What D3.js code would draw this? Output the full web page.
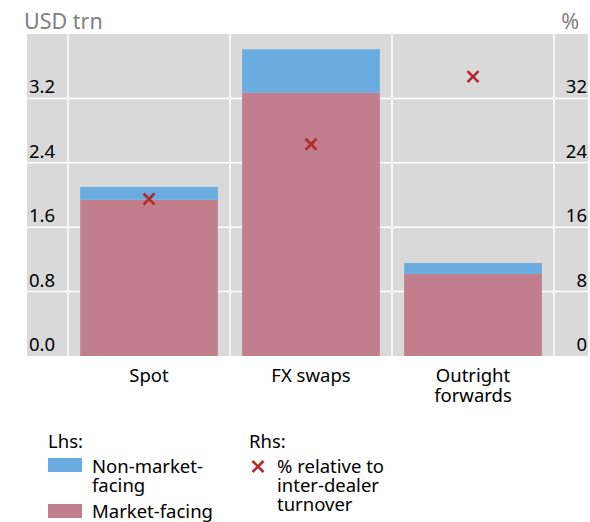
<!DOCTYPE html>
<html>
<head>
<meta charset="utf-8">
<script src="https://cdn.jsdelivr.net/npm/d3@7"></script>
<style>
  body { margin: 0; background: #fff; }
  svg { display: block; font-family: "Noto Sans", "Open Sans", sans-serif; }
</style>
</head>
<body>
<svg id="chart" width="590" height="522"></svg>
<script>
// data
var categories = ["Spot", "FX swaps", "Outright forwards"];
var categoryLines = [["Spot"], ["FX swaps"], ["Outright", "forwards"]];
var marketFacing = [1.94, 3.27, 1.02];
var nonMarketFacing = [0.16, 0.54, 0.135];
var pctInterDealer = [19.5, 26.3, 34.7];
var lhsTicks = [0, 0.8, 1.6, 2.4, 3.2];
var rhsTicks = [0, 8, 16, 24, 32];

var svg = d3.select("#chart");

// plot box (note: "top" is taken by window.top, so prefixed names)
var plotL = 27, plotR = 588, plotT = 34, plotB = 356;

var y = d3.scaleLinear().domain([0, 4]).range([plotB, plotT]);
var y2 = d3.scaleLinear().domain([0, 40]).range([plotB, plotT]);
var x = d3.scaleBand().domain(categories).range([68, 554]);
var barW = x.bandwidth() * 0.85;

svg.append("rect")
    .attr("x", plotL).attr("y", plotT)
    .attr("width", plotR - plotL).attr("height", plotB - plotT)
    .attr("fill", "#d9d9d9");

// horizontal grid
svg.selectAll(".hgrid")
    .data(lhsTicks.filter(function(d) { return d > 0; }))
    .enter().append("line")
    .attr("x1", plotL).attr("x2", plotR)
    .attr("y1", function(d) { return y(d); })
    .attr("y2", function(d) { return y(d); })
    .attr("stroke", "#fff").attr("stroke-width", 1.5);

// vertical grid at band edges
var vEdges = categories.map(function(c) { return x(c); }).concat([x.range()[1]]);
svg.selectAll(".vgrid")
    .data(vEdges)
    .enter().append("line")
    .attr("x1", function(d) { return d; }).attr("x2", function(d) { return d; })
    .attr("y1", plotT).attr("y2", plotB)
    .attr("stroke", "#fff").attr("stroke-width", 1.5);

// stacked bars
var rows = categories.map(function(c, i) {
    return { cat: c, mf: marketFacing[i], nmf: nonMarketFacing[i], pct: pctInterDealer[i] };
});

var bx = function(d) { return x(d.cat) + (x.bandwidth() - barW) / 2; };

svg.selectAll(".mf")
    .data(rows).enter().append("rect")
    .attr("x", bx).attr("width", barW)
    .attr("y", function(d) { return y(d.mf); })
    .attr("height", function(d) { return y(0) - y(d.mf); })
    .attr("fill", "#c17f8e");

svg.selectAll(".nmf")
    .data(rows).enter().append("rect")
    .attr("x", bx).attr("width", barW)
    .attr("y", function(d) { return y(d.mf + d.nmf); })
    .attr("height", function(d) { return y(d.mf) - y(d.mf + d.nmf); })
    .attr("fill", "#6aace0");

// crosses on rhs scale
function cross(g, cx, cy, s) {
    g.append("path")
        .attr("d", "M" + (cx - s) + "," + (cy - s) + "L" + (cx + s) + "," + (cy + s) +
                   "M" + (cx - s) + "," + (cy + s) + "L" + (cx + s) + "," + (cy - s))
        .attr("stroke", "#b5292b").attr("stroke-width", 2.6).attr("fill", "none");
}
rows.forEach(function(d) {
    cross(svg, x(d.cat) + x.bandwidth() / 2, y2(d.pct), 5.5);
});

// tick labels
svg.selectAll(".lt")
    .data(lhsTicks).enter().append("text")
    .attr("x", 29).attr("y", function(d) { return y(d) - 5; })
    .attr("font-size", 18.5).attr("fill", "#000")
    .text(function(d) { return d.toFixed(1); });

svg.selectAll(".rt")
    .data(rhsTicks).enter().append("text")
    .attr("x", 587).attr("y", function(d) { return y2(d) - 5; })
    .attr("text-anchor", "end")
    .attr("font-size", 18.5).attr("fill", "#000")
    .text(function(d) { return d; });

// axis titles
svg.append("text").attr("x", 24).attr("y", 29)
    .attr("font-size", 21.5).attr("fill", "#808080").text("USD trn");
svg.append("text").attr("x", 579).attr("y", 29).attr("text-anchor", "end")
    .attr("font-size", 21.5).attr("fill", "#808080").text("%");

// category labels
categories.forEach(function(c, i) {
    var t = svg.append("text")
        .attr("x", x(c) + x.bandwidth() / 2).attr("y", 382)
        .attr("text-anchor", "middle").attr("font-size", 18.5).attr("fill", "#000");
    categoryLines[i].forEach(function(line, j) {
        t.append("tspan").attr("x", x(c) + x.bandwidth() / 2).attr("dy", j ? 20 : 0).text(line);
    });
});

// legend
var lg = svg.append("g").attr("font-size", 18.5).attr("fill", "#000");
lg.append("text").attr("x", 48).attr("y", 448).text("Lhs:");
lg.append("rect").attr("x", 48).attr("y", 458).attr("width", 34).attr("height", 14).attr("fill", "#6aace0");
lg.append("text").attr("x", 92).attr("y", 473)
    .selectAll("tspan").data(["Non-market-", "facing"]).enter().append("tspan")
    .attr("x", 92).attr("dy", function(d, i) { return i ? 19 : 0; }).text(function(d) { return d; });
lg.append("rect").attr("x", 48).attr("y", 504).attr("width", 34).attr("height", 14).attr("fill", "#c17f8e");
lg.append("text").attr("x", 92).attr("y", 518).text("Market-facing");

lg.append("text").attr("x", 249).attr("y", 448).text("Rhs:");
cross(lg, 258, 466.5, 5.5);
lg.append("text").attr("x", 277).attr("y", 473)
    .selectAll("tspan").data(["% relative to", "inter-dealer", "turnover"]).enter().append("tspan")
    .attr("x", 277).attr("dy", function(d, i) { return i ? 19 : 0; }).text(function(d) { return d; });
</script>
</body>
</html>
